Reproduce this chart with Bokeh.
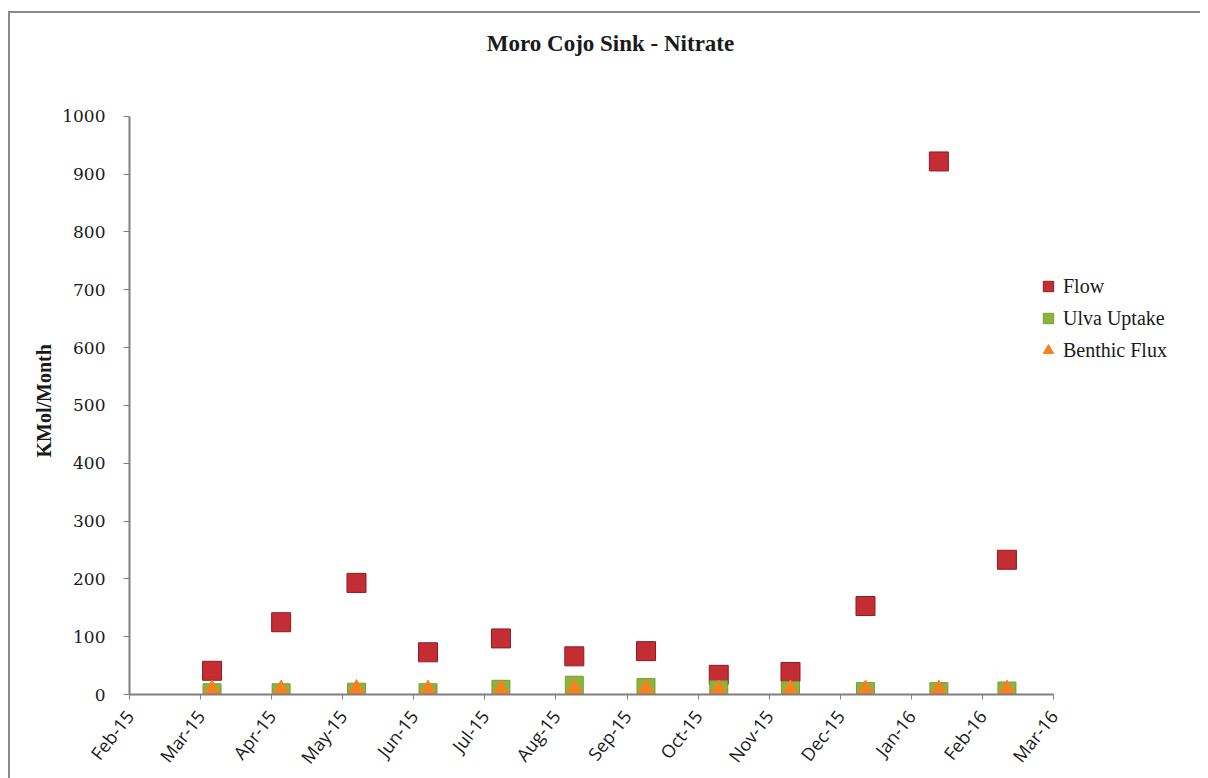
import calendar
from math import pi
from bokeh.plotting import figure
from bokeh.models import FixedTicker, Range1d, ColumnDataSource, Legend, LegendItem, Label, Title
from bokeh.embed import file_html
from bokeh.resources import INLINE

# ---- data ----
sample_dates = ["2015-03-06", "2015-04-05", "2015-05-07", "2015-06-07", "2015-07-08", "2015-08-09",
                "2015-09-09", "2015-10-10", "2015-11-10", "2015-12-12", "2016-01-13", "2016-02-11"]
flow = [41, 125, 193, 73, 97, 66, 75, 34, 39, 153, 922, 233]
ulva_uptake = [3, 3, 4, 3, 9, 16, 12, 8, 7, 5, 5, 6]
benthic_flux = [1, 1, 2, 1, 1, 2, 2, 1, 1, 1, 1, 1]
tick_labels = ["Feb-15", "Mar-15", "Apr-15", "May-15", "Jun-15", "Jul-15", "Aug-15",
               "Sep-15", "Oct-15", "Nov-15", "Dec-15", "Jan-16", "Feb-16", "Mar-16"]
y_ticks = [0, 100, 200, 300, 400, 500, 600, 700, 800, 900, 1000]


def month_index(s):
    y, m, d = (int(v) for v in s.split("-"))
    dim = calendar.monthrange(y, m)[1]
    return (y - 2015) * 12 + (m - 2) + (d - 1) / dim


x = [month_index(s) for s in sample_dates]
src = ColumnDataSource(dict(x=x, flow=flow, ulva=ulva_uptake, benthic=benthic_flux))

# ---- layout (pixels) ----
W, H = 1200, 778
FL, FR, FT, FB = 129, 1190, 14, 695           # frame edges
X_AXIS_END_PX = 1053                          # where the last month tick sits
Y_TOP_PX = 116                                # where 1000 sits
n_months = len(tick_labels) - 1
px_per_month = (X_AXIS_END_PX - FL) / n_months
px_per_unit = (FB - Y_TOP_PX) / y_ticks[-1]
x_end = (FR - FL) / px_per_month
y_end = (FB - FT) / px_per_unit

p = figure(width=W, height=H, output_backend="svg", toolbar_location=None,
           x_range=Range1d(0, x_end), y_range=Range1d(0, y_end),
           min_border_left=FL, min_border_right=W - FR,
           min_border_top=FT, min_border_bottom=H - FB)
p.background_fill_color = None
p.border_fill_color = None
p.styles = {
    "background": "linear-gradient(#8a8a8a,#8a8a8a) 8px 11px / 1192px 2px no-repeat,"
                  " linear-gradient(#8a8a8a,#8a8a8a) 8px 11px / 2px 770px no-repeat, #ffffff"
}

p.grid.visible = False
p.outline_line_color = None

# chart title (inside the tall frame, above the 1000 line)
title = Label(x=(610 - FL) / px_per_month, y=(FB - 43) / px_per_unit,
              text="Moro Cojo Sink - Nitrate", text_align="center", text_baseline="middle",
              text_font="Liberation Serif", text_font_size="23px", text_font_style="bold",
              text_color="#1a1a1a")
p.add_layout(title)

r_flow = p.scatter("x", "flow", source=src, marker="square", size=19,
                   fill_color="#C42D34", line_color="#8E1B20", line_width=1)
r_ulva = p.scatter("x", "ulva", source=src, marker="square", size=18,
                   fill_color="#8DB33F", line_color="#7A9E32", line_width=1)
r_ben = p.scatter("x", "benthic", source=src, marker="triangle", size=24,
                  fill_color="#F58220", line_color="#F58220", line_width=1)

# axes
xa = p.xaxis[0]
xa.bounds = (0, n_months)
xa.ticker = FixedTicker(ticks=list(range(len(tick_labels))))
xa.major_label_overrides = {i: t for i, t in enumerate(tick_labels)}
xa.major_label_orientation = 52 * pi / 180
xa.major_label_text_font = "Open Sans"
xa.major_label_text_font_size = "18px"
xa.major_label_text_color = "#1a1a1a"
xa.major_label_standoff = 13
xa.axis_line_color = "#7f7f7f"
xa.axis_line_width = 2
xa.major_tick_line_color = "#7f7f7f"
xa.major_tick_out = 5
xa.major_tick_in = 0
xa.minor_tick_line_color = None

ya = p.yaxis[0]
ya.bounds = (0, y_ticks[-1])
ya.ticker = FixedTicker(ticks=y_ticks)
ya.major_label_text_font = "DejaVu Serif"
ya.major_label_text_font_size = "17px"
ya.major_label_text_color = "#1a1a1a"
ya.major_label_standoff = 18
ya.axis_line_color = "#7f7f7f"
ya.axis_line_width = 2
ya.major_tick_line_color = "#7f7f7f"
ya.major_tick_out = 6
ya.major_tick_in = 0
ya.minor_tick_line_color = None

# y axis title, placed as a side title so it can be centred on the 0-1000 span
ytitle = Title(text="KMol/Month", align="left", offset=FB - 458, standoff=10,
               text_font="Liberation Serif", text_font_size="20px", text_font_style="bold",
               text_color="#1a1a1a")
p.add_layout(ytitle, "left")

legend = Legend(items=[LegendItem(label="Flow", renderers=[r_flow]),
                       LegendItem(label="Ulva Uptake", renderers=[r_ulva]),
                       LegendItem(label="Benthic Flux", renderers=[r_ben])],
                location=(906, 331), padding=0, margin=0, spacing=6,
                glyph_width=26, glyph_height=26, label_standoff=2,
                label_text_font="Liberation Serif", label_text_font_size="20px",
                label_text_color="#1a1a1a", border_line_color=None,
                background_fill_alpha=0)
p.add_layout(legend, "center")

open("out.html", "w").write(file_html(p, INLINE))
